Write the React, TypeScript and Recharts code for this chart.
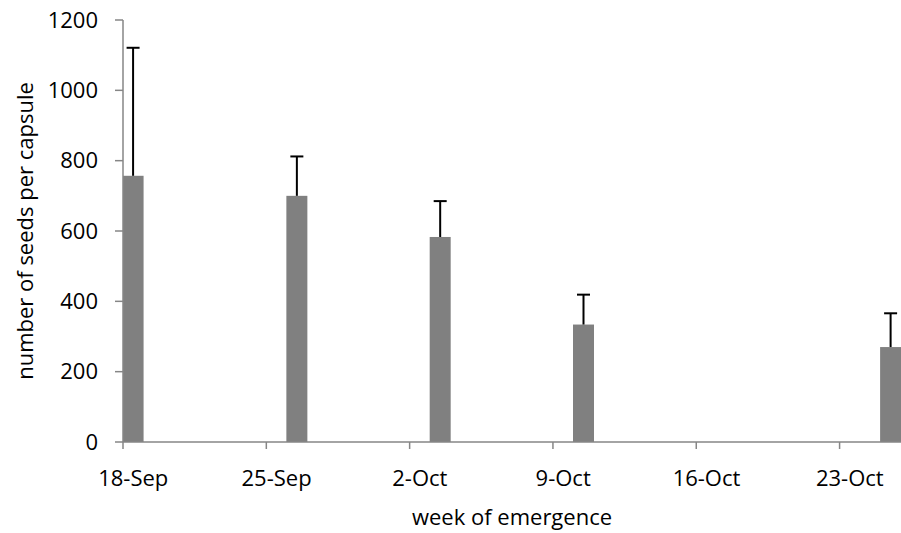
import React from 'react'
import { BarChart, Bar, XAxis, YAxis } from 'recharts'

// days counted from 18-Sep; bars sit in the middle of their day slot
const emergenceDates = ['18-Sep', '26-Sep', '3-Oct', '10-Oct', '25-Oct']
const dayIndex = [0, 8, 15, 22, 37]
const seedsPerCapsule = [757, 700, 583, 334, 270]
const seedsError = [364, 112, 102, 85, 96]

const tickDays = [0, 7, 14, 21, 28, 35]
const tickLabels = ['18-Sep', '25-Sep', '2-Oct', '9-Oct', '16-Oct', '23-Oct']
const yTicks = [0, 200, 400, 600, 800, 1000, 1200]

const FONT = '"Open Sans", sans-serif'
const AXIS = '#868686'
const DAY_PX = (901 - 123) / 38

const data = emergenceDates.map((d, i) => ({
  date: d,
  day: dayIndex[i] + 0.5,
  seeds: seedsPerCapsule[i],
  err: seedsError[i],
}))

const DateTick = ({ x, y, payload }: any) => {
  const idx = tickDays.indexOf(payload.value)
  return (
    <text x={x + DAY_PX / 2} y={y + 35} textAnchor="middle" fontFamily={FONT} fontSize={22} fill="#000">
      {tickLabels[idx]}
    </text>
  )
}

// bar plus a "plus only" error whisker, like Excel draws it
const BarWithError = (props: any) => {
  const { x, y, width, height, payload } = props
  const pxPerUnit = height / payload.seeds
  const top = y - payload.err * pxPerUnit
  const cx = x + width / 2
  return (
    <g>
      <rect x={x} y={y} width={width} height={height} fill="#808080" />
      <line x1={cx} x2={cx} y1={y} y2={top} stroke="#000" strokeWidth={2} />
      <line x1={cx - 6.5} x2={cx + 6.5} y1={top} y2={top} stroke="#000" strokeWidth={2} />
    </g>
  )
}

export default function App() {
  return (
    <div style={{ position: 'absolute', left: 0, top: 0, background: '#fff' }}>
      <BarChart width={901} height={533} data={data} margin={{ top: 20, right: 0, bottom: 0, left: 0 }}>
        <XAxis
          type="number"
          dataKey="day"
          domain={[0, 38]}
          ticks={tickDays}
          interval={0}
          allowDataOverflow
          height={91}
          stroke={AXIS}
          strokeWidth={1.5}
          tickSize={7}
          tick={<DateTick />}
          label={() => (
            <text x={512} y={525} textAnchor="middle" fontFamily={FONT} fontSize={22} fill="#000">
              week of emergence
            </text>
          )}
        />
        <YAxis
          width={123}
          domain={[0, 1200]}
          ticks={yTicks}
          interval={0}
          stroke={AXIS}
          strokeWidth={1.5}
          tickSize={8}
          tickMargin={17}
          tick={{ fill: '#000', fontFamily: FONT, fontSize: 22 }}
          label={() => (
            <text
              x={24}
              y={231}
              textAnchor="middle"
              dominantBaseline="central"
              transform="rotate(-90 24 231)"
              fontFamily={FONT}
              fontSize={22}
              fill="#000"
            >
              number of seeds per capsule
            </text>
          )}
        />
        <Bar dataKey="seeds" fill="#808080" barSize={21} shape={<BarWithError />} isAnimationActive={false} />
      </BarChart>
    </div>
  )
}
